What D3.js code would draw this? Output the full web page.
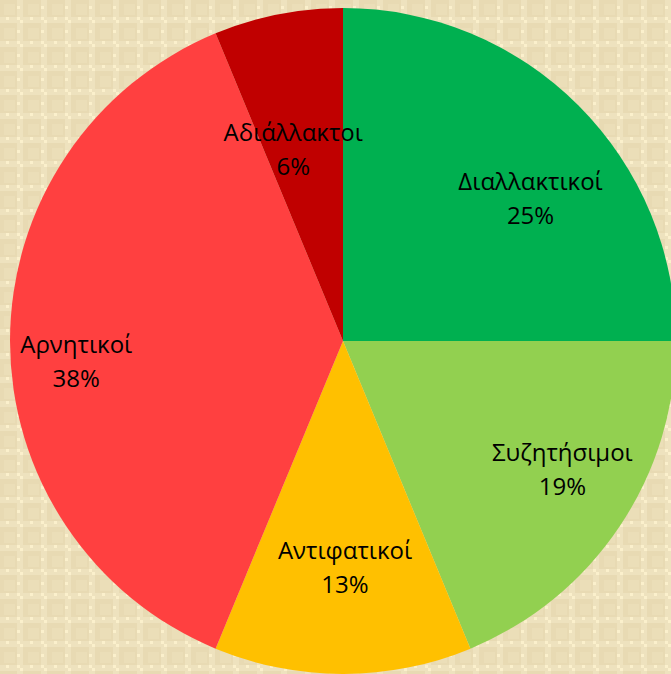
<!DOCTYPE html>
<html>
<head>
<meta charset="utf-8">
<script src="https://cdn.jsdelivr.net/npm/d3@7"></script>
<style>
  html, body { margin: 0; padding: 0; }
  body { width: 671px; height: 674px; overflow: hidden; }
</style>
</head>
<body>
<div id="chart"></div>
<script>
var width = 671;
var height = 674;

// slice data (counts out of 16)
var categories = ["Διαλλακτικοί", "Συζητήσιμοι", "Αντιφατικοί", "Αρνητικοί", "Αδιάλλακτοι"];
var counts = [4, 3, 2, 6, 1];
var percentLabels = ["25%", "19%", "13%", "38%", "6%"];
var sliceColors = ["#00B050", "#92D050", "#FFC000", "#FF4040", "#C00000"];

var cx = 343, cy = 341, radius = 333;

var svg = d3.select("#chart")
            .append("svg")
            .attr("width", width)
            .attr("height", height);

// beige checkered background
var defs = svg.append("defs");
var pat = defs.append("pattern")
              .attr("id", "bg")
              .attr("width", 24)
              .attr("height", 24)
              .attr("patternUnits", "userSpaceOnUse");
pat.append("rect").attr("width", 24).attr("height", 24).attr("fill", "#E8DAB3");
pat.append("rect").attr("x", 4).attr("y", 4).attr("width", 11).attr("height", 11).attr("fill", "#EBDEB8");
pat.append("rect").attr("x", 17).attr("y", 0).attr("width", 6).attr("height", 24).attr("fill", "#EEE2BE");
pat.append("rect").attr("x", 0).attr("y", 17).attr("width", 24).attr("height", 6).attr("fill", "#EEE2BE");
[[17, 17], [20, 20], [17, 6], [6, 17]].forEach(function(p) {
    pat.append("rect").attr("x", p[0]).attr("y", p[1]).attr("width", 3).attr("height", 3).attr("fill", "#FBF0CC");
});
svg.append("rect").attr("width", width).attr("height", height).attr("fill", "url(#bg)");

var data = categories.map(function(c, i) {
    return {name: c, value: counts[i], pct: percentLabels[i], color: sliceColors[i]};
});

var pie = d3.pie()
            .sort(null)
            .value(function(d) { return d.value; })(data);

var arc = d3.arc()
            .outerRadius(radius)
            .innerRadius(0);

var labelArc = d3.arc()
                 .outerRadius(radius * 0.72)
                 .innerRadius(radius * 0.72);

// small nudges like Excel's best-fit placement
var nudge = {
    "Διαλλακτικοί": [18, 26],
    "Συζητήσιμοι": [20, -6],
    "Αντιφατικοί": [2, -14],
    "Αρνητικοί": [-27, 19],
    "Αδιάλλακτοι": [-3, 43]
};

var g = svg.append("g")
           .attr("transform", "translate(" + cx + "," + cy + ")");

g.selectAll("path")
 .data(pie)
 .enter()
 .append("path")
 .attr("d", arc)
 .attr("fill", function(d) { return d.data.color; });

var labels = g.selectAll("text")
              .data(pie)
              .enter()
              .append("text")
              .attr("transform", function(d) {
                  var c = labelArc.centroid(d);
                  var n = nudge[d.data.name];
                  return "translate(" + (c[0] + n[0]) + "," + (c[1] + n[1]) + ")";
              })
              .attr("text-anchor", "middle")
              .style("font-family", "'Open Sans', 'Noto Sans', sans-serif")
              .style("font-size", "24px")
              .style("fill", "#000");

labels.append("tspan")
      .attr("x", 0)
      .attr("y", -17)
      .attr("dominant-baseline", "central")
      .text(function(d) { return d.data.name; });

labels.append("tspan")
      .attr("x", 0)
      .attr("y", 17)
      .attr("dominant-baseline", "central")
      .text(function(d) { return d.data.pct; });
</script>
</body>
</html>
